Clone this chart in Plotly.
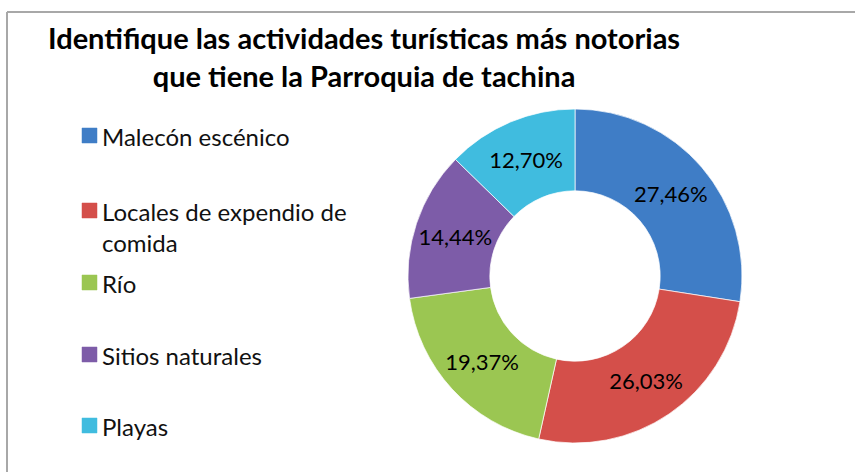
import plotly.graph_objects as go

W, H = 855, 472

categories = ["Malecón escénico", "Locales de expendio de comida", "Río", "Sitios naturales", "Playas"]
legend_labels = ["Malecón escénico", "Locales de expendio de<br>comida", "Río", "Sitios naturales", "Playas"]
values = [27.46, 26.03, 19.37, 14.44, 12.70]
value_labels = ["27,46%", "26,03%", "19,37%", "14,44%", "12,70%"]
colors = ["#3F7DC6", "#D44F4A", "#9BC652", "#7D5CA8", "#40BCDF"]
title_text = "Identifique las actividades turísticas más notorias<br>que tiene la Parroquia de tachina"

FONT = "Lato, Carlito, Calibri, sans-serif"


def px(x):
    return x / W


def py(y):
    return 1 - y / H


cx, cy, r = 575, 276, 167

fig = go.Figure()
fig.add_trace(go.Pie(
    labels=categories,
    values=values,
    text=value_labels,
    textinfo="text",
    textposition="inside",
    insidetextorientation="horizontal",
    textfont=dict(family=FONT, size=22, color="black"),
    hole=0.51,
    sort=False,
    direction="clockwise",
    rotation=0,
    marker=dict(colors=colors, line=dict(color="rgba(255,255,255,0.7)", width=1)),
    domain=dict(x=[px(cx - r), px(cx + r)], y=[py(cy + r), py(cy - r)]),
    showlegend=False,
    hoverinfo="label+percent",
))

annotations = [dict(
    text="<b>" + title_text + "</b>",
    x=px(364), y=py(18), xref="paper", yref="paper",
    xanchor="center", yanchor="top", showarrow=False, align="center",
    font=dict(family=FONT, size=29, color="black"),
)]

shapes = [
    dict(type="line", xref="paper", yref="paper", x0=px(7), y0=py(472), x1=px(7), y1=py(12),
         line=dict(color="#A8A8A8", width=2)),
    dict(type="line", xref="paper", yref="paper", x0=px(7), y0=py(12), x1=px(855), y1=py(12),
         line=dict(color="#A8A8A8", width=2)),
]

legend_tops = [128, 203, 275, 347, 418]
for lab, col, top in zip(legend_labels, colors, legend_tops):
    shapes.append(dict(type="rect", xref="paper", yref="paper",
                       x0=px(82), x1=px(97), y0=py(top + 15), y1=py(top),
                       fillcolor=col, line=dict(color=col, width=0.5)))
    annotations.append(dict(
        text=lab, x=px(100), y=py(top - 8), xref="paper", yref="paper",
        xanchor="left", yanchor="top", showarrow=False, align="left",
        font=dict(family=FONT, size=24, color="#111111"),
    ))

fig.update_layout(
    width=W, height=H,
    margin=dict(l=0, r=0, t=0, b=0),
    paper_bgcolor="white",
    plot_bgcolor="white",
    annotations=annotations,
    shapes=shapes,
)

fig.write_html(
    "out.html",
    config={"displayModeBar": False},
    post_script="document.body.style.margin='0';document.body.style.overflow='hidden';",
)
